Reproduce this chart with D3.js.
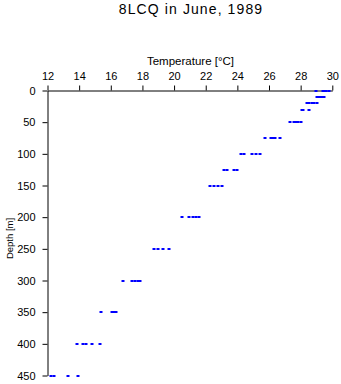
<!DOCTYPE html>
<html><head><meta charset="utf-8">
<script src="https://cdn.jsdelivr.net/npm/d3@7"></script>
<style>body{margin:0;background:#fff}svg{display:block}text{font-family:"Liberation Sans",Arial,sans-serif;fill:#000}</style>
</head><body>
<script>
const title = "8LCQ in June, 1989";
const xLabel = "Temperature [°C]";
const yLabel = "Depth [m]";
const xTicks = [12,14,16,18,20,22,24,26,28,30];
const yTicks = [0,50,100,150,200,250,300,350,400,450];
const depths = [0,10,20,30,50,75,100,125,150,200,250,300,350,400,450];
const temps = [
  [28.98,29.42,29.5,29.6,29.78],
  [29.05,29.15,29.25,29.35,29.45],
  [28.4,28.55,28.7,28.85,29.05],
  [28.1,28.15,28.5],
  [27.35,27.55,27.7,27.85,28.0],
  [25.75,26.1,26.25,26.4,26.7],
  [24.2,24.4,24.9,25.15,25.4],
  [23.15,23.35,23.8,24.0],
  [22.3,22.5,22.75,23.0],
  [20.5,20.95,21.2,21.4,21.6],
  [18.7,19.0,19.3,19.7],
  [16.8,17.35,17.5,17.7,17.85],
  [15.4,16.05,16.2,16.3],
  [13.85,14.25,14.45,14.8,15.3],
  [12.2,12.4,13.3,13.9]
];
const points = [];
depths.forEach((d,i)=>temps[i].forEach(t=>points.push({d,t})));

const W=341,H=384;
const svg=d3.select("body").append("svg").attr("width",W).attr("height",H);
const x=d3.scaleLinear().domain([12,30]).range([47.5,332.3]);
const y=d3.scaleLinear().domain([0,450]).range([90.5,375.5]);

const gx=svg.append("g").attr("transform","translate(0,90.5)")
  .call(d3.axisTop(x).tickValues(xTicks).tickSizeOuter(0).tickSizeInner(5).tickPadding(6).tickFormat(d3.format("d")));
const gy=svg.append("g").attr("transform","translate(47.5,0)")
  .call(d3.axisLeft(y).tickValues(yTicks).tickSizeOuter(0).tickSizeInner(5).tickPadding(7).tickFormat(d3.format("d")));
[gx,gy].forEach(g=>{g.selectAll("path,line").attr("stroke","#000").attr("stroke-width",1);
  g.selectAll("text").attr("font-size",11).attr("font-family","Liberation Sans, Arial, sans-serif").attr("fill","#000");});

svg.append("g").selectAll("rect").data(points).join("rect")
  .attr("x",p=>Math.round(x(p.t))-1.5).attr("y",p=>Math.round(y(p.d))-1)
  .attr("width",3).attr("height",2).attr("fill","#0000ff");

svg.append("text").attr("x",191).attr("y",13.5).attr("text-anchor","middle").attr("font-size",14).attr("letter-spacing",1.1).text(title);
svg.append("text").attr("x",190.5).attr("y",65).attr("text-anchor","middle").attr("font-size",11.5).text(xLabel);
svg.append("text").attr("transform","translate(13,238.5) rotate(-90)").attr("text-anchor","middle").attr("font-size",9.5).text(yLabel);
</script>
</body></html>
